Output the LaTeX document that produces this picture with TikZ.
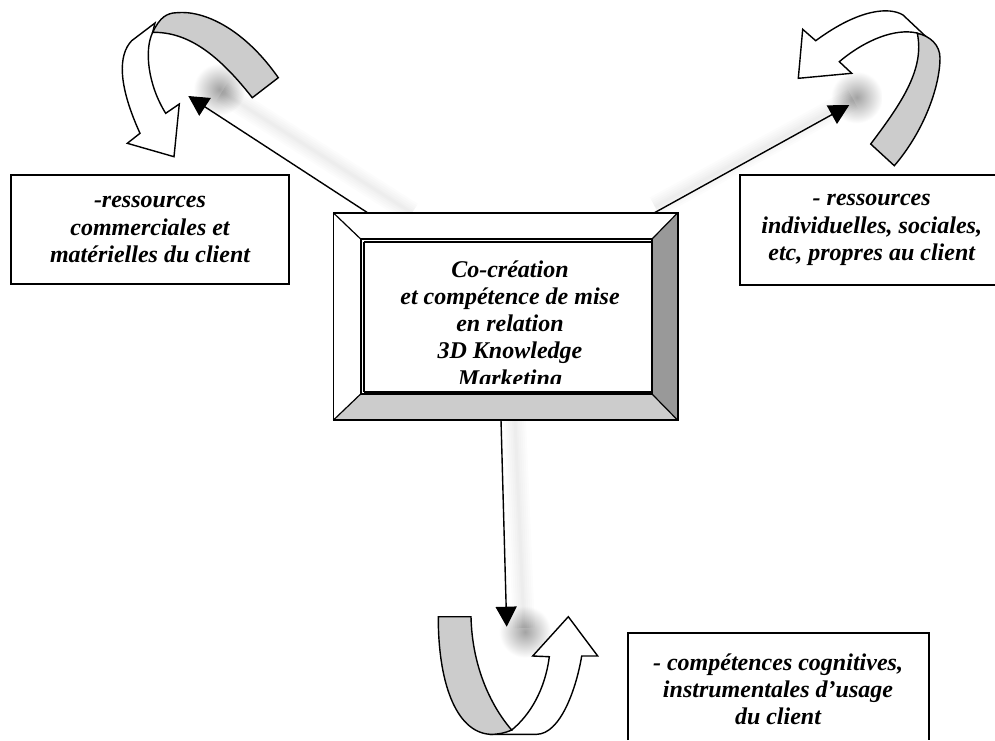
\documentclass[tikz,border=0pt]{standalone}
\usepackage{fontspec}
\setmainfont{Liberation Serif}
\usetikzlibrary{arrows.meta}
\tikzset{
  lbl/.style={font=\fontsize{24}{27.2}\selectfont\bfseries\itshape,align=center,inner sep=0pt},
  outline/.style={draw=black,line width=1.4pt,line join=miter},
  boxline/.style={draw=black,line width=1.6pt},
  link/.style={draw=black,line width=1.4pt,-{Triangle[length=20pt,width=21pt]},shorten >=0pt},
  band/.style={outline,fill=black!20},
  sweep/.style={outline,fill=white}
}
\begin{document}
\begin{tikzpicture}[x=1pt,y=-1pt]
\useasboundingbox (0,0) rectangle (995,740);
\fill[white] (0,0) rectangle (995,740);

% soft shadows
\shade[inner color=black!36,outer color=white] (219.3,89.3) circle (26);
\shade[inner color=black!36,outer color=white] (856.7,97.3) circle (26);
\shade[inner color=black!36,outer color=white] (525,631.7) circle (26);
\foreach \w in {22,18,14,10,6,3}{
  \draw[black,opacity=0.011,line width=\w pt] (222,92) -- (412,213);
  \draw[black,opacity=0.011,line width=\w pt] (853,99) -- (655,207);
  \draw[black,opacity=0.011,line width=\w pt] (524,628) -- (515,420);
}

% curved arrow, top left
\draw[sweep] (155,23) -- (131.7,40.7) .. controls (118,55) and (118,85) .. (140,133.3)
  -- (127.3,143.3) -- (174,156.7) -- (179.3,104) -- (165.7,113.3)
  .. controls (148,85) and (144,50) .. (152.7,32.3) -- cycle;
\draw[band] (278.3,77.7) .. controls (245,30) and (205,10) .. (176.7,12.7)
  .. controls (167,13) and (160,17) .. (152.7,32.3)
  .. controls (185,32) and (215,50) .. (252.3,97.7) -- cycle;

% curved arrow, top right
\draw[sweep] (926.7,37.3) -- (903,15) .. controls (890,7) and (860,8) .. (815.7,40.7)
  -- (802.7,29.3) -- (798.3,78.3) -- (851.7,73.3) -- (839.3,61.7)
  .. controls (865,40) and (895,28) .. (917,33) -- cycle;
\draw[band] (870.7,144) .. controls (900,105) and (925,70) .. (917.3,33.3)
  .. controls (930,36) and (940,45) .. (940,58)
  .. controls (940,85) and (925,130) .. (894.3,165.7) -- cycle;

% curved arrow, bottom
\draw[sweep] (495,734.3) -- (536.7,734.3) .. controls (560,734) and (576,690) .. (581.7,656)
  -- (597.7,656) -- (568.3,616.7) -- (532.7,656) -- (549.3,656.7)
  .. controls (545,690) and (530,715) .. (511.7,730) -- cycle;
\draw[band] (438.3,616.7) -- (471,616.7) .. controls (472,665) and (490,705) .. (511.7,730)
  .. controls (505,733) and (498,734.5) .. (490,734.3)
  .. controls (455,732) and (438,680) .. cycle;

% framed centre
\node[minimum width=344pt,minimum height=207pt,inner sep=0pt] (frame) at (505.5,316.5) {};
\draw[boxline,fill=white] (frame.north west) rectangle (frame.south east);
\coordinate (fa) at (360.7,239);
\coordinate (fb) at (652,239);
\coordinate (fc) at (652,394);
\coordinate (fd) at (360.7,394);
\fill[black!40] (frame.north east) -- (fb) -- (fc) -- (frame.south east) -- cycle;
\fill[black!20] (frame.south west) -- (fd) -- (fc) -- (frame.south east) -- cycle;
\draw[boxline] (frame.north west) rectangle (frame.south east);
\draw[line width=1.2pt] (frame.north west) -- (fa) (frame.north east) -- (fb)
  (frame.south east) -- (fc) (frame.south west) -- (fd);
\draw[boxline] (fa) rectangle (fc);
\draw[line width=1.2pt] (364,242) -- (652,242) (364,242) -- (364,392) (364,392) -- (652,392);
\begin{scope}
  \clip (365,243) rectangle (651,383);
  \node[lbl] (centre) at (510,326) {Co-création\\et compétence de mise\\en relation\\3D Knowledge\\Marketing};
\end{scope}

% text boxes
\node[lbl,boxline,fill=white,minimum width=278pt,minimum height=109pt] (left) at (150,229.5)
  {-ressources\\commerciales et\\matérielles du client};
\draw[boxline] (995,175) -- (740,175) -- (740,285) -- (995,285);
\node[lbl] (right) at (871.7,230) {- ressources\\individuelles, sociales,\\etc, propres au client};
\draw[boxline] (628,740) -- (628,633) -- (929,633) -- (929,740);
\node[lbl] (bottom) at (778,689) {- compétences cognitives,\\instrumentales d’usage\\du client};

% connectors
\coordinate (sl) at (368,213);
\coordinate (tl) at (188.3,96);
\coordinate (sr) at (654,213);
\coordinate (tr) at (849.3,105);
\coordinate (sb) at (501,420);
\coordinate (tb) at (506.7,626.7);
\draw[link] (sl) -- (tl);
\draw[link] (sr) -- (tr);
\draw[link] (sb) -- (tb);
\end{tikzpicture}
\end{document}
